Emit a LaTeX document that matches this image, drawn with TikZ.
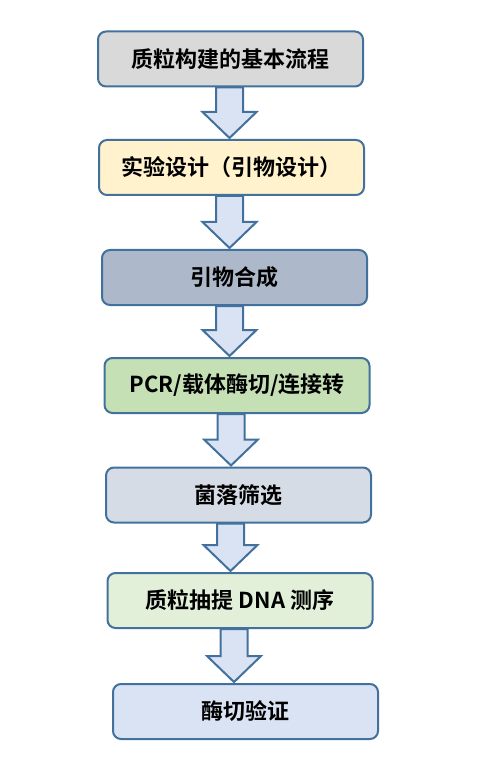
\documentclass[tikz,border=0pt]{standalone}
\usepackage{fontspec}
\newfontfamily\cjk{Noto Sans CJK SC}[BoldFont={* Bold}]
\usetikzlibrary{calc,positioning}
\definecolor{edgeblue}{HTML}{41719C}
\definecolor{arrowfill}{HTML}{DAE3F3}
\definecolor{fillgray}{HTML}{D9D9D9}
\definecolor{fillyellow}{HTML}{FFF2CC}
\definecolor{fillslate}{HTML}{ADB9CA}
\definecolor{fillgreen}{HTML}{C5E0B4}
\definecolor{fillmist}{HTML}{D6DCE5}
\definecolor{fillmint}{HTML}{E2F0D9}
\definecolor{fillsky}{HTML}{DAE3F3}
\tikzset{
  stepbox/.style={draw=edgeblue,line width=2pt,rounded corners=8pt,
    minimum width=265pt,minimum height=55pt,inner sep=0pt,
    font=\cjk\bfseries\fontsize{22}{26}\selectfont},
  flowarrow/.style={draw=edgeblue,fill=arrowfill,line width=2pt,line join=miter}
}
% block arrow: from node, to node, x of its axis (pt)
\newcommand{\flowarrow}[3]{%
  \draw[flowarrow] let \p1=(#1.south), \p2=(#2.north) in
    (#3pt-13.5pt,\y1) -- (#3pt+13.5pt,\y1) -- (#3pt+13.5pt,\y2+27pt)
    -- (#3pt+27pt,\y2+27pt) -- (#3pt,\y2+1pt) -- (#3pt-27pt,\y2+27pt)
    -- (#3pt-13.5pt,\y2+27pt) -- cycle;}

\begin{document}
\begin{tikzpicture}[x=1pt,y=-1pt]
\useasboundingbox (0,0) rectangle (476,775);
%%
\node (s1) at (230.5,59) [stepbox,fill=fillgray] {质粒构建的基本流程};
  \node (s2) at (231.5,167.5) [stepbox,fill=fillyellow] {实验设计（引物设计）};
  \node (s3) at (234.5,277.5) [stepbox,fill=fillslate] {引物合成};
  \node (s4) at (237,385.5) [stepbox,fill=fillgreen] {PCR/载体酶切/连接转};
  \node (s5) at (238.5,495) [stepbox,fill=fillmist] {菌落筛选};
  \node (s6) at (240,600.5) [stepbox,fill=fillmint] {质粒抽提 DNA 测序};
  \node (s7) at (245.5,711.5) [stepbox,fill=fillsky] {酶切验证};
  \flowarrow{s1}{s2}{229.5}
  \flowarrow{s2}{s3}{229.5}
  \flowarrow{s3}{s4}{229.5}
  \flowarrow{s4}{s5}{231}
  \flowarrow{s5}{s6}{230.5}
  \flowarrow{s6}{s7}{234}
%
\end{tikzpicture}
\end{document}
